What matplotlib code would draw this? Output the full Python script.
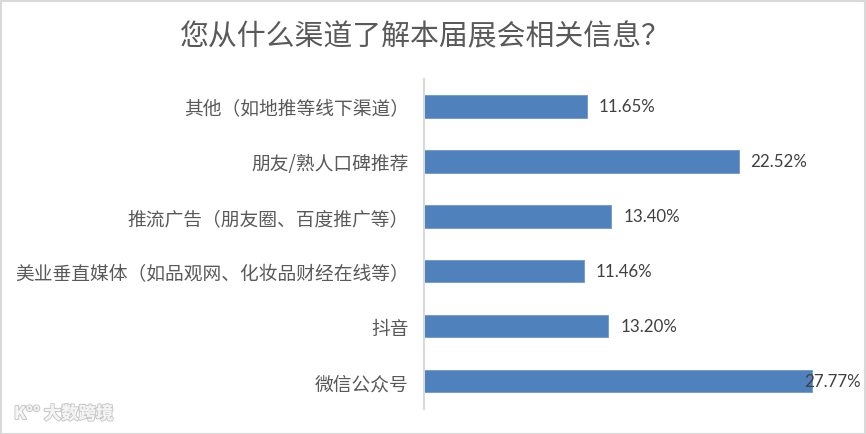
import matplotlib
matplotlib.use("Agg")
import matplotlib.pyplot as plt
import matplotlib.patheffects as pe
from matplotlib.patches import Rectangle

plt.rcParams['font.family'] = ['Noto Sans CJK SC', 'DejaVu Sans']

title = "您从什么渠道了解本届展会相关信息？"
categories = [
    "其他（如地推等线下渠道）",
    "朋友/熟人口碑推荐",
    "推流广告（朋友圈、百度推广等）",
    "美业垂直媒体（如品观网、化妆品财经在线等）",
    "抖音",
    "微信公众号",
]
shares = [11.65, 22.52, 13.40, 11.46, 13.20, 27.77]
value_labels = ["11.65%", "22.52%", "13.40%", "11.46%", "13.20%", "27.77%"]

W, H = 866, 435
fig = plt.figure(figsize=(W / 100, H / 100), dpi=100)
fig.patch.set_facecolor("white")

# light frame around the chart area
fig.patches.append(Rectangle((0.5 / W, 0.5 / H), (W - 2) / W, (H - 2) / H,
                             transform=fig.transFigure, fill=False,
                             edgecolor="#d9d9d9", linewidth=1.5))

ax_left, ax_right = 424 / W, 843 / W
ax_top, ax_bottom = 1 - 80 / H, 1 - 409.5 / H
ax = fig.add_axes([ax_left, ax_bottom, ax_right - ax_left, ax_top - ax_bottom])

n = len(categories)
ypos = list(range(n))
ax.barh(ypos, shares, height=0.41, color="#4f81bd", edgecolor="#6e97c9", linewidth=0.6)
ax.set_xlim(0, 30)
ax.set_ylim(n - 0.5, -0.5)

ax.set_yticks(ypos)
ax.set_yticklabels(categories, fontsize=13.5, color="#595959")
ax.tick_params(axis="y", length=0, pad=11)
ax.set_xticks([])

for side in ("top", "right", "bottom"):
    ax.spines[side].set_visible(False)
ax.spines["left"].set_color("#d9d9d9")
ax.spines["left"].set_linewidth(1.5)

label_font = ['Lato', 'DejaVu Sans']
xmax_px = 858
for y, v, lab in zip(ypos, shares, value_labels):
    end_px = ax.transData.transform((v, y))[0]
    dx = -8 if end_px + 12 + 58 > xmax_px else 12
    ax.annotate(lab, xy=(v, y), xytext=(dx, 0), textcoords="offset pixels",
                ha="left", va="center", fontsize=12.2, color="#404040",
                family=label_font, annotation_clip=False)

fig.text(425 / W, 1 - 37 / H, title, ha="center", va="center",
         fontsize=20.8, color="#595959", fontweight="light")

# watermark
fig.text(14 / W, 1 - 415 / H, "K°° 大数跨境", ha="left", va="center",
         fontsize=12.5, color="#f4f4f4", fontweight="bold",
         path_effects=[pe.withStroke(linewidth=1.6, foreground="#c8c8c8"),
                       pe.Normal()])

fig.savefig("out.png", dpi=100)
